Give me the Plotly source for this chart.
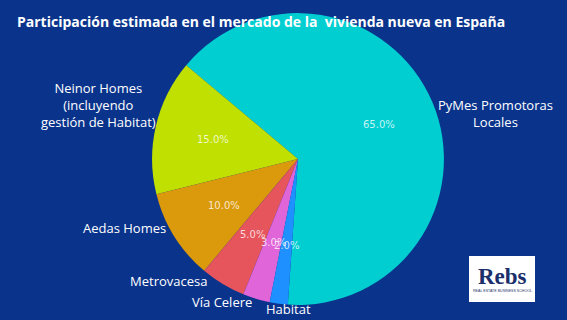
import math
import plotly.graph_objects as go

# ---- data ----
labels = ["PyMes Promotoras Locales", "Neinor Homes (incluyendo gestión de Habitat)",
          "Aedas Homes", "Metrovacesa", "Vía Celere", "Habitat"]
label_text = ["PyMes Promotoras<br>Locales", "Neinor Homes<br>(incluyendo<br>gestión de Habitat)",
              "Aedas Homes", "Metrovacesa", "Vía Celere", "Habitat"]
shares = [65.0, 15.0, 10.0, 5.0, 3.0, 2.0]
colors = ["#00CED1", "#BFE000", "#DB9A0C", "#E6555C", "#E065D8", "#1E90FF"]
title = "Participación estimada en el mercado de la \u00a0vivienda nueva en España"

# ---- layout / style ----
W, H = 567, 320
BG = "#0a348c"
dom_x = [0.2681, 0.7831]
dom_y = [0.047, 0.959]
rotation = -50  # plotly: degrees clockwise from 12 o'clock
# outside label placement (pixel anchor x, y, xanchor)
label_pos = [(495, 113, "center"), (158, 105, "right"), (168, 228, "right"),
             (168, 280.5, "center"), (221.5, 302, "center"), (288.5, 309, "center")]

fig = go.Figure()
fig.add_trace(go.Pie(
    labels=labels, values=shares,
    marker=dict(colors=colors, line=dict(width=0)),
    sort=False, direction="counterclockwise", rotation=rotation,
    domain=dict(x=dom_x, y=dom_y),
    textinfo="none", hoverinfo="skip", showlegend=False,
))

# percentage labels at 0.6 of the radius, following plotly's counterclockwise layout
total = sum(shares)
cx = (dom_x[0] + dom_x[1]) / 2
cy = (dom_y[0] + dom_y[1]) / 2
r_px = min((dom_x[1] - dom_x[0]) * W, (dom_y[1] - dom_y[0]) * H) / 2
cur = rotation + 360 * shares[0] / total  # clockwise-from-top angle
annotations = []
for v in shares:
    span = 360 * v / total
    mid_cw = cur - span / 2
    cur -= span
    a = math.radians(90 - mid_cw)
    annotations.append(dict(
        x=cx + 0.6 * r_px * math.cos(a) / W, y=cy + 0.6 * r_px * math.sin(a) / H,
        xref="paper", yref="paper", showarrow=False,
        text=f"{v / total * 100:.1f}%",
        font=dict(family="DejaVu Sans", size=10, color="rgba(255,255,255,0.78)"),
        xanchor="center", yanchor="middle"))

for txt, (px, py, xa) in zip(label_text, label_pos):
    annotations.append(dict(
        x=px / W, y=1 - py / H, xref="paper", yref="paper", showarrow=False,
        text=txt, align="center", xanchor=xa, yanchor="middle",
        font=dict(family="Open Sans", size=13, color="white")))

# logo
annotations.append(dict(x=502 / W, y=1 - 276.5 / H, xref="paper", yref="paper", showarrow=False,
                        text="<b>Rebs</b>", font=dict(family="Liberation Serif", size=23, color="#1B2F6B"),
                        xanchor="center", yanchor="middle"))
annotations.append(dict(x=502 / W, y=1 - 290.5 / H, xref="paper", yref="paper", showarrow=False,
                        text="REAL ESTATE BUSINESS SCHOOL",
                        font=dict(family="Liberation Sans", size=3.6, color="#1B2F6B"),
                        xanchor="center", yanchor="middle"))

fig.update_layout(
    width=W, height=H, margin=dict(l=0, r=0, t=0, b=0),
    paper_bgcolor=BG, plot_bgcolor=BG,
    title=dict(text=f"<b>{title}</b>", x=17 / W, xanchor="left", y=1 - 22.5 / H, yanchor="middle",
               font=dict(family="Open Sans", size=14, color="white")),
    annotations=annotations,
    shapes=[dict(type="rect", xref="paper", yref="paper", x0=469 / W, x1=535 / W,
                 y0=1 - 302 / H, y1=1 - 256 / H, fillcolor="white", line=dict(width=0), layer="below")],
)
fig.write_html("out.html")
